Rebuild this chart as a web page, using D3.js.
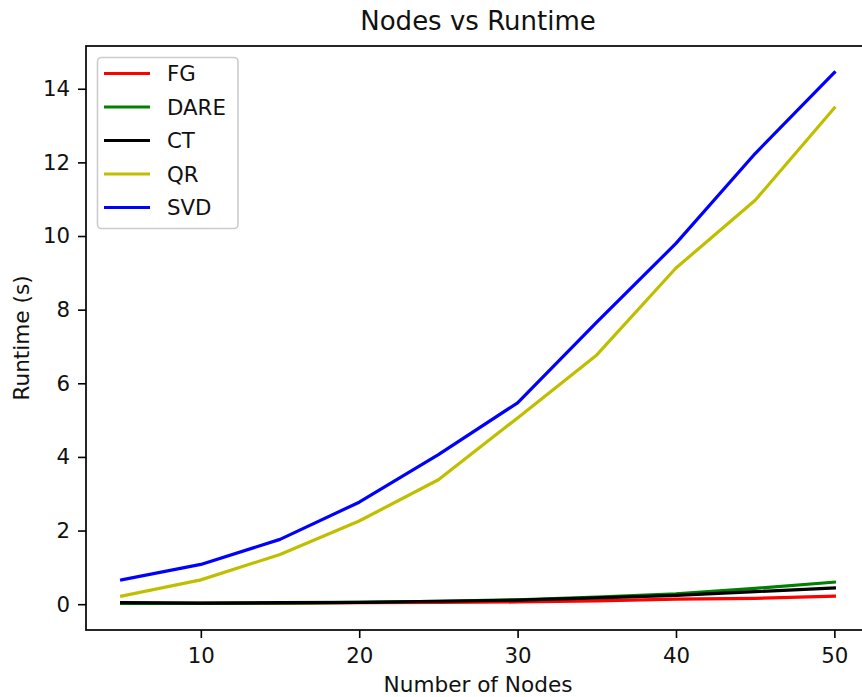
<!DOCTYPE html>
<html>
<head>
<meta charset="utf-8">
<script src="https://cdn.jsdelivr.net/npm/d3@7"></script>
<style>
  html, body { margin: 0; padding: 0; background: #fff; }
  svg { display: block; font-family: "DejaVu Sans", sans-serif; }
</style>
</head>
<body>
<svg id="chart" width="862" height="697"></svg>
<script>
// ---- Data ----
const nodes = [5, 10, 15, 20, 25, 30, 35, 40, 45, 50];
const fg   = [0.02, 0.02, 0.03, 0.04, 0.05, 0.06, 0.09, 0.14, 0.16, 0.22];
const dare = [0.02, 0.02, 0.03, 0.05, 0.08, 0.12, 0.19, 0.28, 0.43, 0.60];
const ct   = [0.04, 0.03, 0.04, 0.05, 0.08, 0.11, 0.17, 0.24, 0.34, 0.44];
const qr   = [0.22, 0.66, 1.35, 2.26, 3.38, 5.06, 6.77, 9.13, 10.97, 13.48];
const svd  = [0.66, 1.08, 1.76, 2.77, 4.06, 5.47, 7.66, 9.80, 12.24, 14.44];
const seriesNames = ["FG", "DARE", "CT", "QR", "SVD"];
const seriesValues = [fg, dare, ct, qr, svd];
const seriesColors = ["#ff0000", "#008000", "#000000", "#bfbf00", "#0000ff"];
const xTicks = [10, 20, 30, 40, 50];
const yTicks = [0, 2, 4, 6, 8, 10, 12, 14];
const titleText = "Nodes vs Runtime";
const xLabel = "Number of Nodes";
const yLabel = "Runtime (s)";

// ---- Layout ----
const svg = d3.select("#chart");
const plotL = 86, plotR = 870, plotT = 46, plotB = 630;
const fs = 21.3;

function padded(min, max) { const m = (max - min) * 0.05; return [min - m, max + m]; }
const allY = seriesValues.flat();
const x = d3.scaleLinear().domain(padded(d3.min(nodes), d3.max(nodes))).range([plotL, plotR]);
const y = d3.scaleLinear().domain(padded(d3.min(allY), d3.max(allY))).range([plotB, plotT]);

// lines
const line = d3.line().x((d, i) => x(nodes[i])).y(d => y(d));
const g = svg.append("g");
seriesValues.forEach((vals, k) => {
  g.append("path").datum(vals)
    .attr("d", line)
    .attr("fill", "none")
    .attr("stroke", seriesColors[k])
    .attr("stroke-width", 3.2)
    .attr("stroke-linejoin", "round")
    .attr("stroke-linecap", "square");
});

// axes
const xAxis = d3.axisBottom(x).tickValues(xTicks).tickSize(8).tickPadding(10).tickFormat(d3.format("d"));
const yAxis = d3.axisLeft(y).tickValues(yTicks).tickSize(8).tickPadding(8).tickFormat(d3.format("d"));
const gx = svg.append("g").attr("transform", `translate(0,${plotB})`).call(xAxis);
const gy = svg.append("g").attr("transform", `translate(${plotL},0)`).call(yAxis);
[gx, gy].forEach(a => {
  a.select(".domain").remove();
  a.selectAll(".tick line").attr("stroke", "#000").attr("stroke-width", 1.6);
  a.selectAll(".tick text").attr("fill", "#111").style("font-size", fs + "px").style("font-family", "DejaVu Sans");
});

// spines
svg.append("rect")
  .attr("x", plotL).attr("y", plotT)
  .attr("width", plotR - plotL).attr("height", plotB - plotT)
  .attr("fill", "none").attr("stroke", "#000").attr("stroke-width", 1.7);

// title & labels
svg.append("text").attr("x", (plotL + plotR) / 2).attr("y", 30)
  .attr("text-anchor", "middle").style("font-size", "26px").attr("fill", "#111").text(titleText);
svg.append("text").attr("x", (plotL + plotR) / 2).attr("y", 692)
  .attr("text-anchor", "middle").style("font-size", "21.6px").attr("fill", "#111").text(xLabel);
svg.append("text").attr("transform", `translate(29,${(plotT + plotB) / 2}) rotate(-90)`)
  .attr("text-anchor", "middle").style("font-size", "21.6px").attr("fill", "#111").text(yLabel);

// legend
const lg = svg.append("g");
lg.append("rect").attr("x", 97.5).attr("y", 57.5).attr("width", 140.5).attr("height", 171)
  .attr("rx", 4).attr("fill", "#fff").attr("fill-opacity", 0.8)
  .attr("stroke", "#cccccc").attr("stroke-width", 1.6);
seriesNames.forEach((name, k) => {
  const yy = 73.5 + k * 33.5;
  lg.append("line").attr("x1", 104).attr("x2", 150).attr("y1", yy).attr("y2", yy)
    .attr("stroke", seriesColors[k]).attr("stroke-width", 3.2);
  lg.append("text").attr("x", 167).attr("y", yy).attr("dy", "0.36em")
    .style("font-size", fs + "px").attr("fill", "#111").text(name);
});
</script>
</body>
</html>
